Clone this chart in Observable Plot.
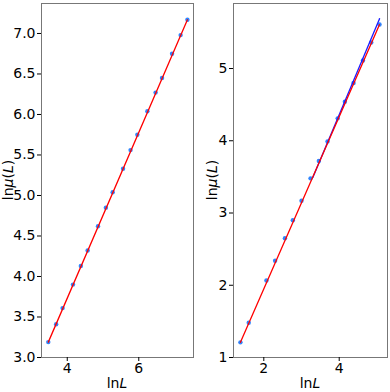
<!DOCTYPE html>
<html>
<head>
<meta charset="utf-8">
<script src="https://cdn.jsdelivr.net/npm/d3@7"></script>
<script src="https://cdn.jsdelivr.net/npm/@observablehq/plot@0.6"></script>
<style>
  html, body { margin: 0; padding: 0; background: white; }
  #wrap { display: flex; flex-direction: row; width: 390px; height: 392px; }
</style>
</head>
<body>
<div id="wrap"></div>
<script>
// Left panel data (ln L, ln mu(L))
const leftLnL = [3.47, 3.69, 3.87, 4.16, 4.38, 4.57, 4.86, 5.08, 5.27, 5.56, 5.77, 5.96, 6.24, 6.47, 6.65, 6.93, 7.17, 7.36];
const leftLnMu = [3.19, 3.41, 3.61, 3.90, 4.13, 4.32, 4.62, 4.85, 5.04, 5.33, 5.56, 5.75, 6.04, 6.27, 6.45, 6.75, 6.98, 7.17];
// Right panel data
const rightLnL = [1.38, 1.60, 2.07, 2.30, 2.56, 2.77, 3.00, 3.24, 3.46, 3.69, 3.96, 4.15, 4.38, 4.63, 4.85, 5.07];
const rightLnMu = [1.21, 1.48, 2.065, 2.34, 2.65, 2.90, 3.17, 3.48, 3.72, 3.99, 4.31, 4.54, 4.80, 5.11, 5.36, 5.61];
// Fit lines: [slope, intercept, xStart, xEnd]
const leftRedFit = [1.023, -0.36, 3.47, 7.36];
const rightRedFit = [1.192, -0.435, 1.38, 5.07];
const rightBlueFit = [1.242, -0.607, 3.30, 5.07];
// Ticks
const leftXTicks = [4, 6];
const leftYTicks = [3.0, 3.5, 4.0, 4.5, 5.0, 5.5, 6.0, 6.5, 7.0];
const rightXTicks = [2, 4];
const rightYTicks = [1, 2, 3, 4, 5];

const pointColor = "#2f86ff";
const fontFamily = "'DejaVu Sans', sans-serif";

function fitLine(f) {
  return [f[2], f[3]].map(x => ({x, y: f[0] * x + f[1]}));
}

function panel({xs, ys, fits, xDomain, yDomain, xTicks, yTicks, yFormat, marginLeft, marginRight, yLabelX}) {
  const pts = xs.map((x, i) => ({x, y: ys[i]}));
  const marks = [
    Plot.frame({stroke: "#777", strokeWidth: 1}),
    Plot.axisX({ticks: xTicks, tickFormat: d3.format("d"), tickSize: 4, tickPadding: 2, label: null, fontSize: 14}),
    Plot.axisY({ticks: yTicks, tickFormat: yFormat, tickSize: 4, tickPadding: 2, label: null, fontSize: 14}),
    Plot.dot(pts, {x: "x", y: "y", r: 2.2, fill: pointColor, stroke: "none"})
  ];
  for (const [f, color] of fits) {
    marks.push(Plot.line(fitLine(f), {x: "x", y: "y", stroke: color, strokeWidth: 1.3}));
  }
  const svg = Plot.plot({
    width: 195,
    height: 392,
    marginLeft,
    marginRight,
    marginTop: 3,
    marginBottom: 35,
    x: {domain: xDomain},
    y: {domain: yDomain},
    style: {fontFamily, fontSize: "14px", color: "black", background: "white", overflow: "visible"},
    marks
  });
  const s = d3.select(svg);
  const cx = marginLeft + (195 - marginLeft - marginRight) / 2;
  const xl = s.append("text")
    .attr("x", cx).attr("y", 383)
    .attr("text-anchor", "middle").attr("dominant-baseline", "central")
    .style("font-size", "14px").style("font-family", fontFamily).attr("fill", "black");
  xl.append("tspan").text("ln");
  xl.append("tspan").attr("font-style", "italic").text("L");
  const cy = 3 + (392 - 3 - 35) / 2;
  const yl = s.append("text")
    .attr("transform", `translate(${yLabelX},${cy}) rotate(-90)`)
    .attr("text-anchor", "middle").attr("dominant-baseline", "central")
    .style("font-size", "14px").style("font-family", fontFamily).attr("fill", "black");
  yl.append("tspan").text("ln");
  yl.append("tspan").attr("font-style", "italic").text("μ");
  yl.append("tspan").text("(");
  yl.append("tspan").attr("font-style", "italic").text("L");
  yl.append("tspan").text(")");
  return svg;
}

const wrap = document.getElementById("wrap");
wrap.appendChild(panel({
  xs: leftLnL, ys: leftLnMu,
  fits: [[leftRedFit, "red"]],
  xDomain: [3.28, 7.53], yDomain: [3.0, 7.37],
  xTicks: leftXTicks, yTicks: leftYTicks, yFormat: d3.format(".1f"),
  marginLeft: 41, marginRight: 2, yLabelX: 8
}));
wrap.appendChild(panel({
  xs: rightLnL, ys: rightLnMu,
  fits: [[rightBlueFit, "#1a1aff"], [rightRedFit, "red"]],
  xDomain: [1.196, 5.281], yDomain: [1.0, 5.90],
  xTicks: rightXTicks, yTicks: rightYTicks, yFormat: d3.format("d"),
  marginLeft: 38, marginRight: 3, yLabelX: 17
}));
</script>
</body>
</html>
